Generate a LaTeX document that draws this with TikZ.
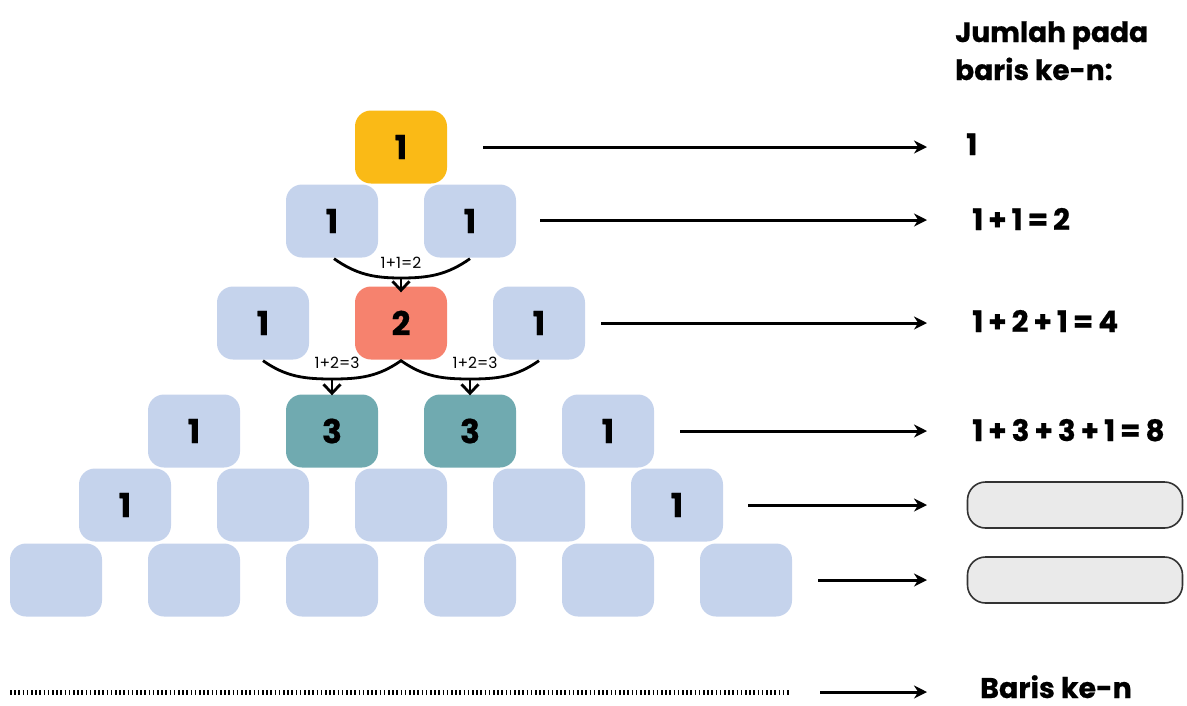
\documentclass[tikz,border=0pt]{standalone}
\usepackage{fontspec}
\setmainfont{Poppins}
\newfontfamily\popb{Poppins}[UprightFont=* Bold, FakeBold=0.6]
\usetikzlibrary{arrows.meta,calc}
\definecolor{cellblue}{RGB}{197,211,236}
\definecolor{cellgold}{RGB}{250,186,22}
\definecolor{cellred}{RGB}{246,130,110}
\definecolor{cellteal}{RGB}{112,170,176}
\definecolor{slotgray}{RGB}{234,234,234}
\begin{document}
\begin{tikzpicture}[x=1pt,y=-1pt,
  cell/.style={minimum width=92pt,minimum height=73pt,rounded corners=16pt,
    fill=cellblue,inner sep=0pt,font=\popb\fontsize{33}{36}\selectfont},
  gold/.style={cell,fill=cellgold},
  redcell/.style={cell,fill=cellred},
  teal/.style={cell,fill=cellteal},
  sumtext/.style={anchor=base west,font=\popb\fontsize{29.5}{32}\selectfont,inner sep=0pt},
  slot/.style={minimum width=215pt,minimum height=46pt,rounded corners=18pt,
    fill=slotgray,draw=black!80,line width=1.6pt,inner sep=0pt},
  longarrow/.style={line width=3pt,-{Stealth[length=13pt,width=13pt]}},
  joinline/.style={line width=2.8pt},
  downarrow/.style={line width=2.8pt,-{Straight Barb[length=9pt,width=17pt]}},
  small/.style={font=\fontsize{15.5}{18}\selectfont,inner sep=1pt}]
\useasboundingbox (0,0) rectangle (1187,705);

% triangle of cells
\node[gold] (a1) at (401,147) {1};

\node[cell] (b1) at (332,221) {1};
\node[cell] (b2) at (470,221) {1};

\node[cell] (c1) at (263,323) {1};
\node[redcell] (c2) at (401,323) {2};
\node[cell] (c3) at (539,323) {1};

\node[cell] (d1) at (194,431) {1};
\node[teal] (d2) at (332,431) {3};
\node[teal] (d3) at (470,431) {3};
\node[cell] (d4) at (608,431) {1};

\node[cell] (e1) at (125,505) {1};
\node[cell] (e2) at (263,505) {};
\node[cell] (e3) at (401,505) {};
\node[cell] (e4) at (539,505) {};
\node[cell] (e5) at (677,505) {1};

\node[cell] (f1) at (56,580) {};
\node[cell] (f2) at (194,580) {};
\node[cell] (f3) at (332,580) {};
\node[cell] (f4) at (470,580) {};
\node[cell] (f5) at (608,580) {};
\node[cell] (f6) at (746,580) {};

% joining curves with their sums
\coordinate (m1) at (401,278);
\draw[joinline] ($(b1.south)+(2,1)$) to[out=-35,in=180] (m1) to[out=0,in=-145] ($(b2.south)+(0,1)$);
\node[small] (l1) at (401,263) {1+1=2};
\draw[downarrow] (m1) -- ($(c2.north)+(0,6)$);

\coordinate (m2) at (332,379);
\coordinate (m3) at (470,379);
\draw[joinline] ($(c1.south)+(0,1)$) to[out=-35,in=180] (m2) to[out=0,in=-145] ($(c2.south)+(0,1)$)
  to[out=-35,in=180] (m3) to[out=0,in=-145] ($(c3.south)+(0,1)$);
\node[small] (l2) at (337,363) {1+2=3};
\node[small] (l3) at (475,363) {1+2=3};
\draw[downarrow] (m2) -- ($(d2.north)+(0,1)$);
\draw[downarrow] (m3) -- ($(d3.north)+(0,1)$);

% heading of the sums column
\node[anchor=base west,align=left,font=\popb\fontsize{28}{38}\selectfont,inner sep=0pt]
  (head) at (955,80) {Jumlah pada\\baris ke-n:};

% sums per row
\node[sumtext] (s1) at (966,155) {1};
\node[sumtext] (s2) at (972,230) {1\,+\,1\,=\,2};
\node[sumtext] (s3) at (972,332) {1\,+\,2\,+\,1\,=\,4};
\node[sumtext] (s4) at (972,441) {1\,+\,3\,+\,3\,+\,1\,=\,8};
\node[slot] (s5) at (1075,505) {};
\node[slot] (s6) at (1075,580) {};
\node[anchor=base west,font=\popb\fontsize{28.5}{32}\selectfont,inner sep=0pt] (s7) at (980,698) {Baris ke-n};

% arrows from each row to its sum
\coordinate (t1) at (927,147);
\coordinate (t2) at (927,220);
\coordinate (t3) at (927,323);
\coordinate (t4) at (927,431);
\coordinate (t5) at (927,505);
\coordinate (t6) at (927,580);
\coordinate (t7) at (927,692);
\coordinate (u1) at (483,147);
\coordinate (u2) at (540,220);
\coordinate (u3) at (601,323);
\coordinate (u4) at (680,431);
\coordinate (u5) at (748,505);
\coordinate (u6) at (818,580);
\coordinate (u7) at (820,692);
\foreach \i in {1,...,7} \draw[longarrow] (u\i) -- (t\i);

% dotted row standing for row n
\coordinate (dl) at (10,692);
\coordinate (dr) at (790,692);
\draw[line width=5pt,dash pattern=on 1.6pt off 2.6pt] (dl) -- (dr);
\end{tikzpicture}
\end{document}
